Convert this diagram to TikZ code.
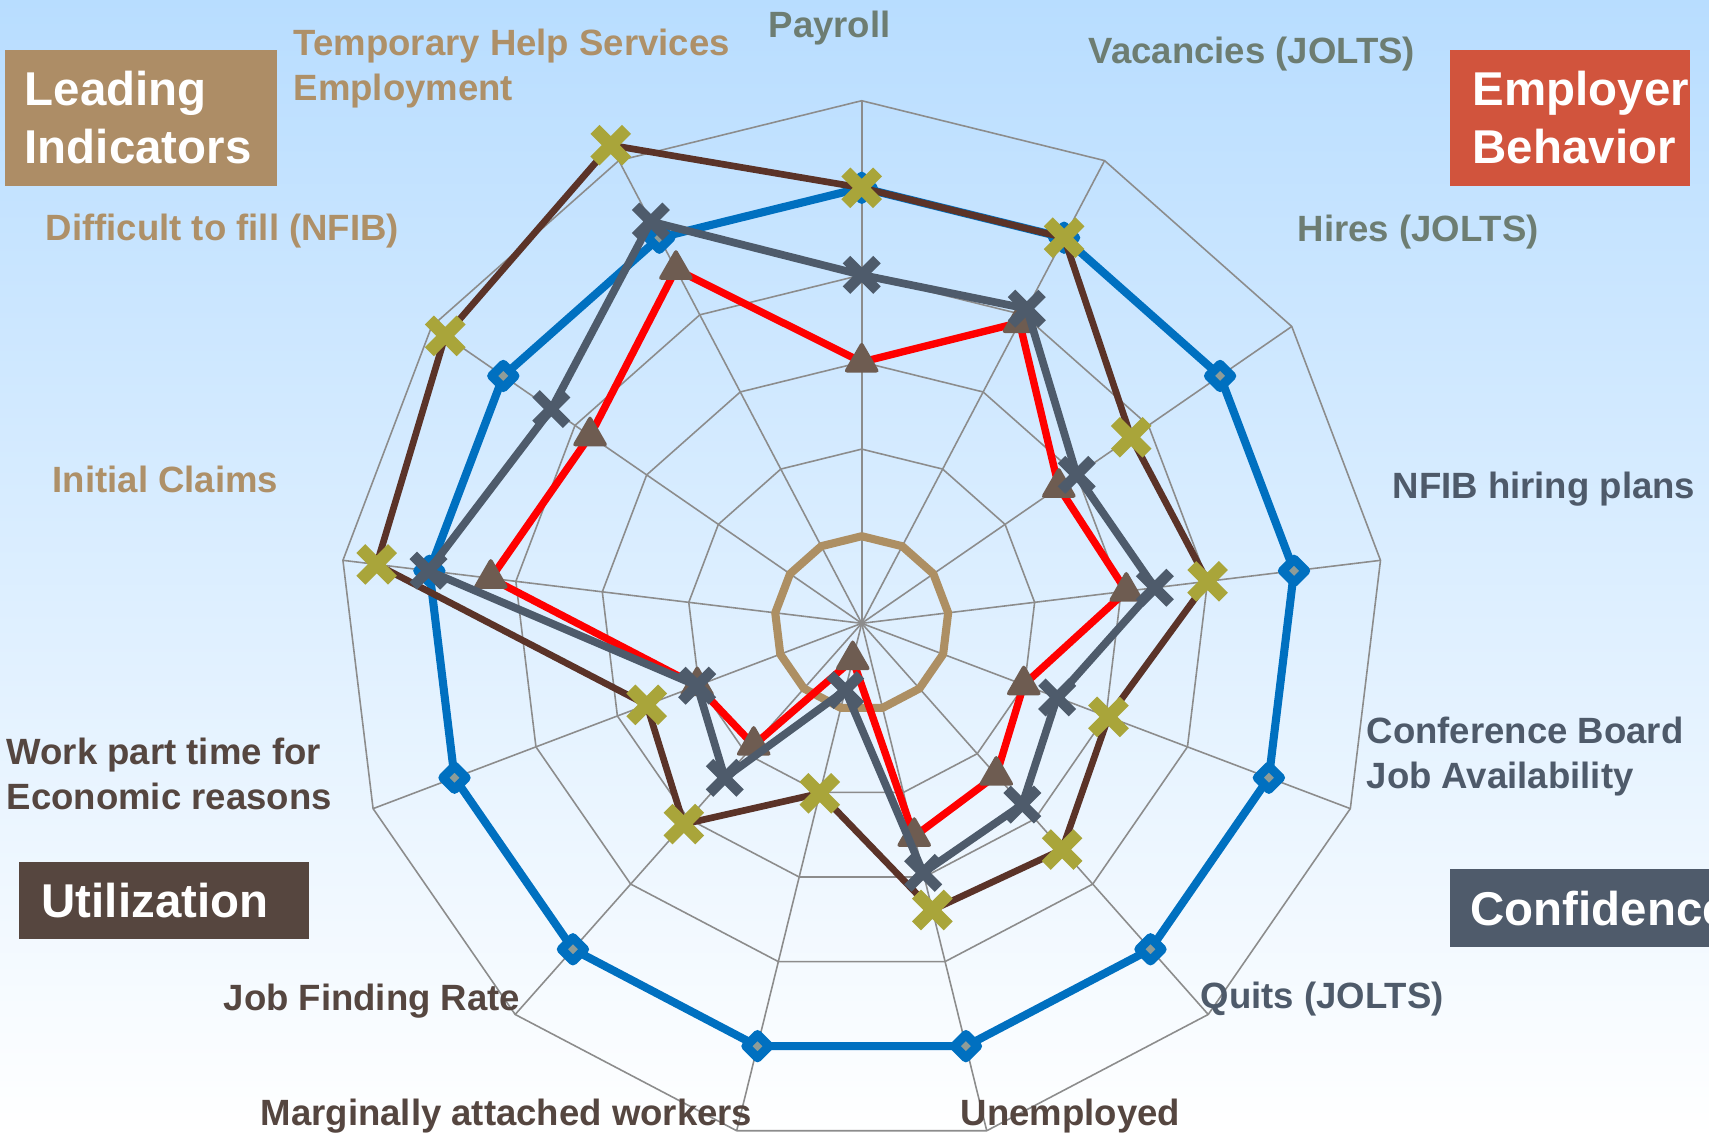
\documentclass[tikz,border=0pt]{standalone}
\usepackage{fontspec}
\setmainfont{Liberation Sans}
\usepackage{tikz}
\usetikzlibrary{shapes.geometric}
\usetikzlibrary{shapes.misc}

\definecolor{skyblue}{HTML}{B8DDFF}
\definecolor{gridgray}{HTML}{8C8C8C}
\definecolor{chartblue}{HTML}{0070C0}
\definecolor{chartbrown}{HTML}{5B3328}
\definecolor{chartslate}{HTML}{4E5B6B}
\definecolor{chartred}{HTML}{FF0000}
\definecolor{chartgold}{HTML}{AD8F63}
\definecolor{markolive}{HTML}{A9A53A}
\definecolor{marktri}{HTML}{6E5C51}
\definecolor{markfill}{HTML}{8E9C98}
\definecolor{tantext}{HTML}{AE9068}
\definecolor{greentext}{HTML}{6D7D72}
\definecolor{slatetext}{HTML}{4E5A6A}
\definecolor{browntext}{HTML}{554640}
\definecolor{leadtan}{HTML}{AD8D66}
\definecolor{empred}{HTML}{D1543D}
\definecolor{utilbrown}{HTML}{56463F}
\definecolor{confslate}{HTML}{4F5B6B}

\newcommand{\ru}{0.871} % one ring of the web

\begin{document}
\begin{tikzpicture}[
            line join = round, % series corners
            every node/.style = {inner sep = 0pt}
        ]

        \tikzstyle{grid line}=[draw = gridgray, line width = 0.45pt]
        \tikzstyle{axis label}=[anchor = base west, align = left, font = \fontsize{10.4}{12.8}\selectfont\bfseries]
        \tikzstyle{group label}=[anchor = west, align = left, text = white, font = \fontsize{13.5}{16.5}\selectfont\bfseries]
        \tikzstyle{blue mark}=[diamond, draw = chartblue, fill = markfill, line width = 2.6pt, minimum width = 0.27cm, minimum height = 0.27cm]
        \tikzstyle{olive mark}=[cross out, draw = markolive, line width = 3.6pt, minimum size = 0.19cm]
        \tikzstyle{slate mark}=[cross out, draw = chartslate, line width = 3pt, minimum size = 0.2cm]
        \tikzstyle{tri mark}=[regular polygon, regular polygon sides = 3, fill = marktri, rounded corners = 1pt, minimum size = 0.42cm]

        % background
        \shade[top color = skyblue, bottom color = white] (0,0) rectangle (17.09,-11.36);
        \useasboundingbox (0,0) rectangle (17.09,-11.36);

        \begin{scope}[shift = {(8.617,-6.233)}]
        \coordinate (C) at (0,0);

        % web
        \foreach \k in {0,...,12}
            \draw[grid line] (C) -- (90-\k*360/13:6*\ru);
        \foreach \r in {1,...,6}
            \draw[grid line] (90:\r*\ru) \foreach \k in {1,...,12}{ -- (90-\k*360/13:\r*\ru)} -- cycle;

        % base ring
        \draw[chartgold, line width = 2.3pt] (90:\ru) \foreach \k in {1,...,12}{ -- (90-\k*360/13:\ru)} -- cycle;

        % blue series
        \foreach \v [count = \k from 0] in {5,5,5,5,5,5,5,5,5,5,5,5,5}
            \coordinate (blue-\k) at (90-\k*360/13:\v*\ru);
        \draw[chartblue, line width = 2.3pt] (blue-0) \foreach \k in {1,...,12}{ -- (blue-\k)} -- cycle;
        \foreach \k in {0,...,12}
            \node[blue mark] (bluemark-\k) at (blue-\k) {};

        % brown series
        \foreach \v [count = \k from 0] in {5,5,3.76,4,3.03,3.47,3.39,2.01,3.08,2.64,5.61,5.81,6.2}
            \coordinate (brown-\k) at (90-\k*360/13:\v*\ru);
        \draw[chartbrown, line width = 1.9pt] (brown-0) \foreach \k in {1,...,12}{ -- (brown-\k)} -- cycle;
        \foreach \k in {0,...,12}
            \node[olive mark] (brownmark-\k) at (brown-\k) {};

        % red series
        \foreach \v [count = \k from 0] in {3,3.9,2.75,3.06,1.99,2.33,2.52,0.43,1.87,2.02,4.29,3.79,4.59}
            \coordinate (red-\k) at (90-\k*360/13:\v*\ru);
        \draw[chartred, line width = 2.1pt] (red-0) \foreach \k in {1,...,12}{ -- (red-\k)} -- cycle;
        \foreach \k in {0,...,12}
            \node[tri mark] (redmark-\k) at (red-\k) {};

        % slate series
        \foreach \v [count = \k from 0] in {4,4.08,3,3.39,2.4,2.78,2.95,0.79,2.37,2.02,5.01,4.33,5.21}
            \coordinate (slate-\k) at (90-\k*360/13:\v*\ru);
        \draw[chartslate, line width = 2.2pt] (slate-0) \foreach \k in {1,...,12}{ -- (slate-\k)} -- cycle;
        \foreach \k in {0,...,12}
            \node[slate mark] (slatemark-\k) at (slate-\k) {};
        \end{scope}

        % axis labels
        \node[axis label, text = greentext] (payroll) at (7.68,-0.37) {Payroll};
        \node[axis label, text = greentext] (vacancies) at (10.88,-0.63) {Vacancies (JOLTS)};
        \node[axis label, text = greentext] (hires) at (12.97,-2.41) {Hires (JOLTS)};
        \node[axis label, text = slatetext] (nfibplans) at (13.92,-4.98) {NFIB hiring plans};
        \node[axis label, text = slatetext] (confboard) at (13.66,-7.88) {Conference Board\\Job Availability};
        \node[axis label, text = slatetext] (quits) at (12.00,-10.08) {Quits (JOLTS)};
        \node[axis label, text = browntext] (unemployed) at (9.60,-11.25) {Unemployed};
        \node[axis label, text = browntext] (marginal) at (2.60,-11.25) {Marginally attached workers};
        \node[axis label, text = browntext] (jobfinding) at (2.23,-10.10) {Job Finding Rate};
        \node[axis label, text = browntext] (parttime) at (0.06,-8.09) {Work part time for\\Economic reasons};
        \node[axis label, text = tantext] (claims) at (0.52,-4.92) {Initial Claims};
        \node[axis label, text = tantext] (difficult) at (0.45,-2.40) {Difficult to fill (NFIB)};
        \node[axis label, text = tantext] (temphelp) at (2.93,-1.00) {Temporary Help Services\\Employment};

        % group boxes
        \fill[leadtan] (0.05,-0.50) rectangle (2.77,-1.86);
        \node[group label] (leading) at (0.24,-1.18) {Leading\\Indicators};
        \fill[empred] (14.50,-0.50) rectangle (16.90,-1.86);
        \node[group label] (employer) at (14.72,-1.18) {Employer\\Behavior};
        \fill[utilbrown] (0.19,-8.62) rectangle (3.09,-9.39);
        \node[group label] (utilization) at (0.41,-9.01) {Utilization};
        \fill[confslate] (14.50,-8.69) rectangle (17.30,-9.47);
        \node[group label] (confidence) at (14.70,-9.09) {Confidence};

\end{tikzpicture}
\end{document}
